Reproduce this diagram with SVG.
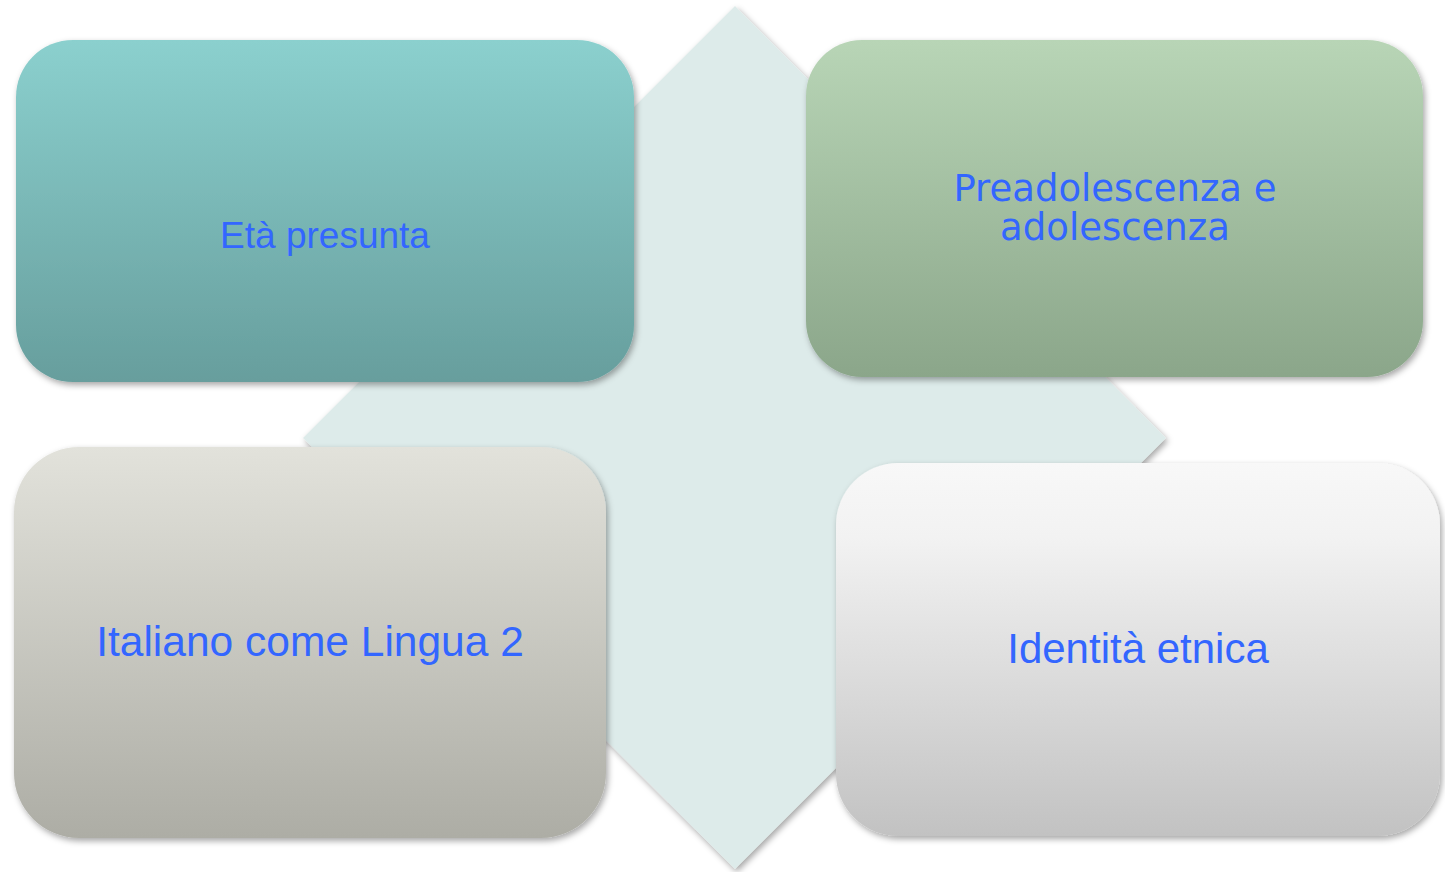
<svg xmlns="http://www.w3.org/2000/svg" width="1445" height="872" viewBox="0 0 1445 872">
  <style>
    .lbl { fill: #3366FF; text-anchor: middle; }
    .arial { font-family: "Liberation Sans", Arial, sans-serif; }
    .verd { font-family: "DejaVu Sans", Verdana, sans-serif; }
    .box { filter: url(#shadow); }
  </style>
  <defs>
    <filter id="shadow" x="-10%" y="-10%" width="120%" height="125%">
      <feDropShadow dx="2" dy="3" stdDeviation="3" flood-color="#000" flood-opacity="0.35"/>
    </filter>
    <linearGradient id="g1" x1="0" y1="0" x2="0" y2="1">
      <stop offset="0" stop-color="#8BD0CE"/>
      <stop offset="1" stop-color="#679E9D"/>
    </linearGradient>
    <linearGradient id="g2" x1="0" y1="0" x2="0" y2="1">
      <stop offset="0" stop-color="#B8D5B6"/>
      <stop offset="1" stop-color="#8BA68A"/>
    </linearGradient>
    <linearGradient id="g3" x1="0" y1="0" x2="0" y2="1">
      <stop offset="0" stop-color="#E2E2DB"/>
      <stop offset="1" stop-color="#ADADA5"/>
    </linearGradient>
    <linearGradient id="g4" x1="0" y1="0" x2="0" y2="1">
      <stop offset="0" stop-color="#F8F8F8"/>
      <stop offset="0.2" stop-color="#F2F2F2"/>
      <stop offset="1" stop-color="#C2C2C2"/>
    </linearGradient>
  </defs>

  <g id="background-diamond">
    <polygon points="735,6 1166,438 735,869 303,438" fill="#DDEBEA" filter="url(#shadow)"/>
  </g>

  <g id="connectors"></g>

  <g id="node-eta">
    <rect class="box" x="16" y="40" width="618" height="342" rx="57" ry="57" fill="url(#g1)"/>
    <text class="lbl arial" x="325" y="248" font-size="37">Età presunta</text>
  </g>

  <g id="node-preadolescenza">
    <rect class="box" x="806" y="40" width="617" height="337" rx="56" ry="56" fill="url(#g2)"/>
    <text class="lbl verd" font-size="37"><tspan x="1115" y="201">Preadolescenza e</tspan><tspan x="1115" y="240">adolescenza</tspan></text>
  </g>

  <g id="node-italiano">
    <rect class="box" x="14" y="447" width="592" height="391" rx="65" ry="65" fill="url(#g3)"/>
    <text class="lbl arial" x="310" y="656" font-size="42.5">Italiano come Lingua 2</text>
  </g>

  <g id="node-identita">
    <rect class="box" x="836" y="463" width="604" height="373" rx="62" ry="62" fill="url(#g4)"/>
    <text class="lbl arial" x="1138" y="663" font-size="42">Identità etnica</text>
  </g>
</svg>
